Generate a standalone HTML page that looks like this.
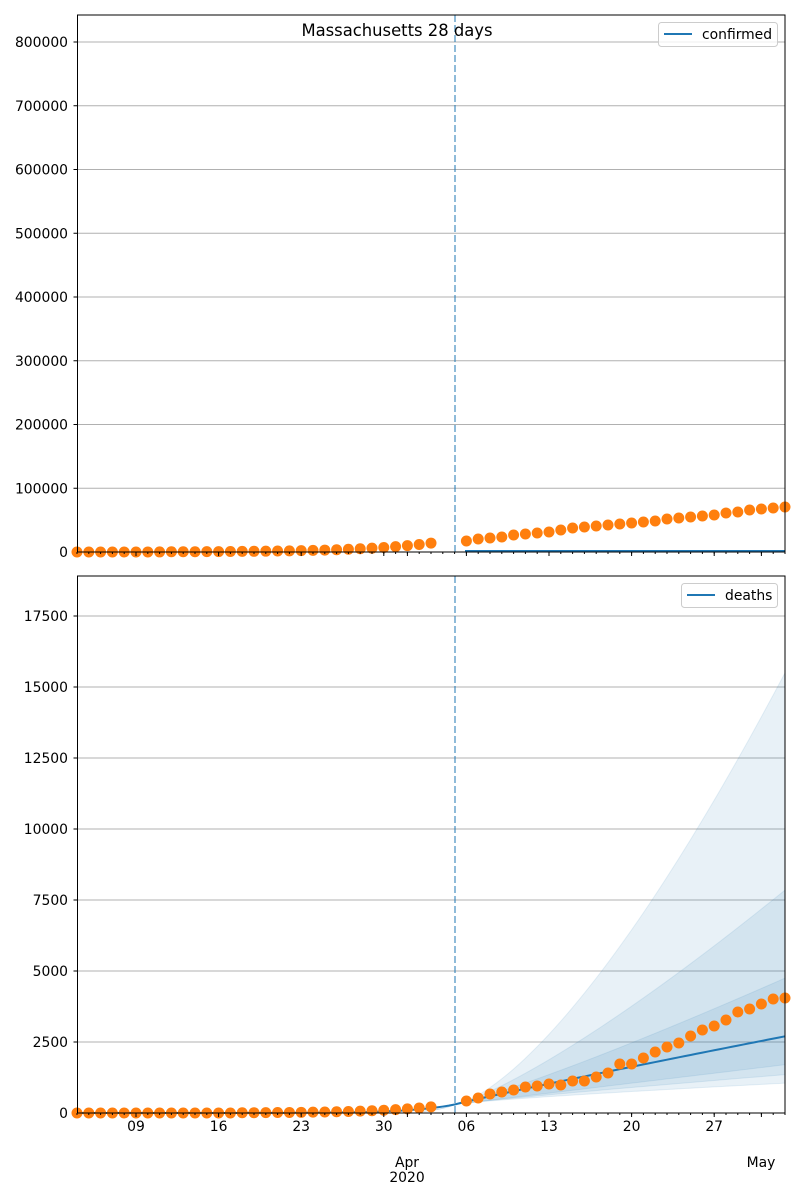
<!DOCTYPE html>
<html><head><meta charset="utf-8"><style>
html,body{margin:0;padding:0;background:#fff;}
svg{display:block;font-family:"DejaVu Sans","Liberation Sans",sans-serif;}
</style></head><body>
<svg id="s" width="800" height="1200" xmlns="http://www.w3.org/2000/svg"></svg>
<script>
const s=document.getElementById('s');
let h='';
const X0=77.5,X1=785,DAY=82.6/7;
const x=d=>136+ (d-5)*DAY;
const yT=v=>552-v*(510/800000);
const yB=v=>1113-v*(71/2500);
function axes(top,bot,ticks,yf){
  for(const t of ticks){const y=yf(t);h+=`<line x1="${X0}" x2="${X1}" y1="${y}" y2="${y}" stroke="#b0b0b0" stroke-width="1"/>`;
  h+=`<line x1="${X0-4}" x2="${X0}" y1="${y}" y2="${y}" stroke="#000"/>`;
  h+=`<text x="68" y="${y+5}" font-size="13.9" text-anchor="end">${t}</text>`;}
}
axes(15,552,[0,100000,200000,300000,400000,500000,600000,700000,800000],yT);
axes(576,1113,[0,2500,5000,7500,10000,12500,15000,17500],yB);
const T=[];for(let t=-3;t<=28;t+=0.5)T.push(t);
function band(up,lo){let p=[];for(const t of T)p.push(`${x(t+32)},${yB(up(t))}`);for(const t of [...T].reverse())p.push(`${x(t+32)},${yB(lo(t))}`);
 h+=`<polygon points="${p.join(' ')}" fill="#1f77b4" fill-opacity="0.1" stroke="#1f77b4" stroke-opacity="0.1"/>`;}
const base=t=>t<0?300*Math.exp(t*0.6)-0:300;
const f=(a,e)=>t=>t<=0?base(t):300+a*Math.pow(t/28,e);
band(f(15200,1.45),f(750,0.8));
band(f(7550,1.25),f(1050,0.9));
band(f(4450,1.15),f(1400,1));
let mp=[];for(let d=0;d<=60;d+=0.5){let t=d-32;let v=t<=0?300*Math.exp(t*0.28):300+2400*Math.pow(t/28,0.95);mp.push(`${x(d)},${yB(v)}`);}
h+=`<polyline points="${mp.join(' ')}" fill="none" stroke="#1f77b4" stroke-width="2"/>`;
h+=`<line x1="465" x2="${X1}" y1="551" y2="551" stroke="#1f77b4" stroke-width="2"/>`;
for(const [a,b] of [[15,552],[576,1113]])h+=`<line x1="455" x2="455" y1="${a}" y2="${b}" stroke="#1f77b4" stroke-opacity="0.5" stroke-width="2" stroke-dasharray="7,3"/>`;
const cPre=[];for(let d=0;d<=30;d++){cPre.push(d<8?d*15:14000*Math.exp((d-30)*0.17));}
const cPostY=[541,539,538,537,535,534,533,532,530,528,527,526,525,524,523,522,521,519,518,517,516,515,513,512,510,509,508,507];
for(let d=0;d<=30;d++)h+=`<circle cx="${x(d)}" cy="${yT(cPre[d])}" r="5.5" fill="#ff7f0e"/>`;
cPostY.forEach((y,i)=>h+=`<circle cx="${x(33+i)}" cy="${y}" r="5.5" fill="#ff7f0e"/>`);
for(let d=0;d<=30;d++){const v=d<14?0:216*Math.exp((d-30)*0.2);h+=`<circle cx="${x(d)}" cy="${yB(v)}" r="5.5" fill="#ff7f0e"/>`;}
const dY=[1101,1098,1094,1092,1090,1087,1086,1084,1085,1081,1081,1077,1073,1064,1064,1058,1052,1047,1043,1036,1030,1026,1020,1012,1009,1004,999,998];
dY.forEach((y,i)=>h+=`<circle cx="${x(33+i)}" cy="${y}" r="5.5" fill="#ff7f0e"/>`);
for(const [a,b] of [[15,552],[576,1113]]){
 h+=`<rect x="${X0}" y="${a}" width="${X1-X0}" height="${b-a}" fill="none" stroke="#000" stroke-width="1"/>`;
 for(let d=0;d<=60;d++){const xx=x(d);if(xx>X1+0.5)break;h+=`<line x1="${xx}" x2="${xx}" y1="${b}" y2="${b+2}" stroke="#000"/>`;}
 for(const d of [5,12,19,26,33,40,47,54,28,58]){const xx=x(d);h+=`<line x1="${xx}" x2="${xx}" y1="${b}" y2="${b+4}" stroke="#000"/>`;}
}
const lab=[[5,'09'],[12,'16'],[19,'23'],[26,'30'],[33,'06'],[40,'13'],[47,'20'],[54,'27']];
for(const [d,t] of lab)h+=`<text x="${x(d)}" y="1131" font-size="13.9" text-anchor="middle">${t}</text>`;
h+=`<text x="407" y="1167" font-size="13.9" text-anchor="middle">Apr</text><text x="407" y="1182" font-size="13.9" text-anchor="middle">2020</text><text x="761" y="1167" font-size="13.9" text-anchor="middle">May</text>`;
h+=`<text x="397" y="36" font-size="16.4" text-anchor="middle">Massachusetts 28 days</text>`;
h+=`<rect x="658.5" y="22.5" width="119" height="24" rx="3" fill="#fff" fill-opacity="0.8" stroke="#ccc"/><line x1="664" x2="692" y1="34" y2="34" stroke="#1f77b4" stroke-width="2"/><text x="702" y="39" font-size="13.9">confirmed</text>`;
h+=`<rect x="681.5" y="583.5" width="96" height="24" rx="3" fill="#fff" fill-opacity="0.8" stroke="#ccc"/><line x1="687" x2="715" y1="595" y2="595" stroke="#1f77b4" stroke-width="2"/><text x="725" y="600" font-size="13.9">deaths</text>`;
s.innerHTML=h;
</script>
</body></html>
